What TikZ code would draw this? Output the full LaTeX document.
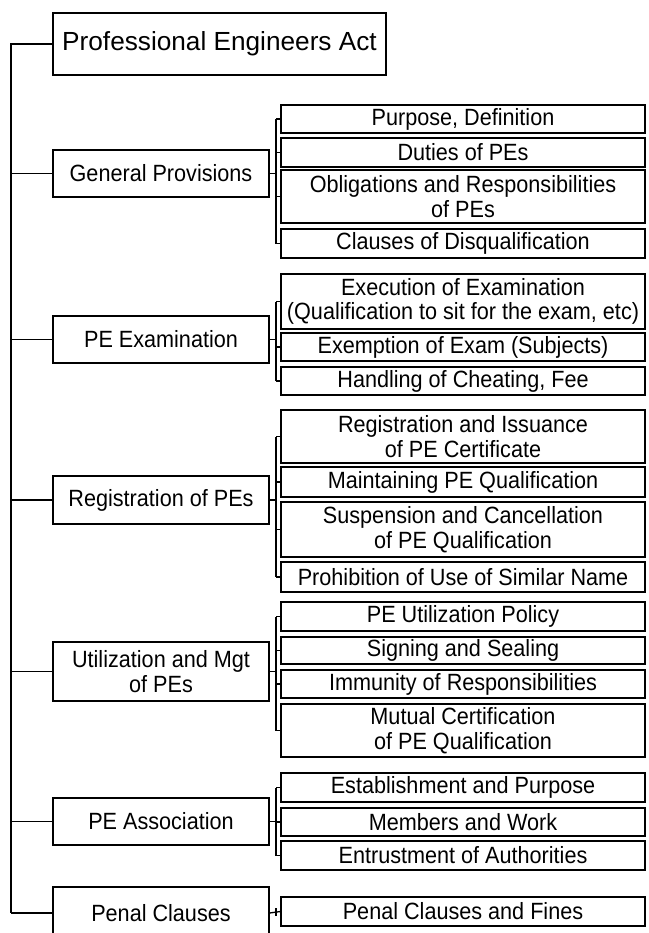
\documentclass[tikz,border=0pt]{standalone}
\usepackage{fontspec}
\setmainfont[FakeStretch=0.92]{Liberation Sans}
\newfontfamily\titlefont{Liberation Sans}
\begin{document}
\begin{tikzpicture}[x=1pt,y=-1pt,
  pbox/.style={draw,line width=1.3pt,minimum width=216pt,inner sep=0pt,align=center,font=\fontsize{23.5}{24.5}\selectfont},
  cbox/.style={draw,line width=1.3pt,minimum width=364pt,inner sep=0pt,align=center,font=\fontsize{23.5}{24.5}\selectfont},
  tbox/.style={draw,line width=1.3pt,minimum width=333pt,minimum height=62pt,inner sep=0pt,font=\titlefont\fontsize{26.2}{30}\selectfont},
  mainline/.style={line width=2pt},
  link/.style={line width=1.3pt}]
\useasboundingbox (0,0) rectangle (648,933);
% title
\node[tbox] (title) at (219.5,44) {Professional Engineers Act};
\coordinate (top) at (11,44);
\coordinate (bx) at (276,0);
% parents
\node[pbox,minimum height=47pt] (p1) at (161,173.5) {General Provisions};
\node[pbox,minimum height=47pt] (p2) at (161,339.5) {PE Examination};
\node[pbox,minimum height=48pt] (p3) at (161,500) {Registration of PEs};
\node[pbox,minimum height=59pt] (p4) at (161,671.5) {Utilization and Mgt\\of PEs};
\node[pbox,minimum height=47pt] (p5) at (161,821.5) {PE Association};
\node[pbox,minimum height=52pt] (p6) at (161,913) {Penal Clauses};
% children
\node[cbox,minimum height=28pt] (c11) at (463,119) {Purpose, Definition};
\node[cbox,minimum height=29pt] (c12) at (463,152.5) {Duties of PEs};
\node[cbox,minimum height=53pt] (c13) at (463,196.5) {Obligations and Responsibilities\\of PEs};
\node[cbox,minimum height=29pt] (c14) at (463,243.5) {Clauses of Disqualification};
\node[cbox,minimum height=55pt] (c21) at (463,301.5) {Execution of Examination\\(Qualification to sit for the exam, etc)};
\node[cbox,minimum height=28pt] (c22) at (463,347) {Exemption of Exam (Subjects)};
\node[cbox,minimum height=28pt] (c23) at (463,381) {Handling of Cheating, Fee};
\node[cbox,minimum height=53pt] (c31) at (463,436.5) {Registration and Issuance\\of PE Certificate};
\node[cbox,minimum height=30pt] (c32) at (463,482) {Maintaining PE Qualification};
\node[cbox,minimum height=55pt] (c33) at (463,529.5) {Suspension and Cancellation\\of PE Qualification};
\node[cbox,minimum height=30pt] (c34) at (463,577) {Prohibition of Use of Similar Name};
\node[cbox,minimum height=29pt] (c41) at (463,616.5) {PE Utilization Policy};
\node[cbox,minimum height=27pt] (c42) at (463,650.5) {Signing and Sealing};
\node[cbox,minimum height=28pt] (c43) at (463,684) {Immunity of Responsibilities};
\node[cbox,minimum height=53pt] (c44) at (463,730.5) {Mutual Certification\\of PE Qualification};
\node[cbox,minimum height=29pt] (c51) at (463,787.5) {Establishment and Purpose};
\node[cbox,minimum height=28pt] (c52) at (463,822) {Members and Work};
\node[cbox,minimum height=29pt] (c53) at (463,855.5) {Entrustment of Authorities};
\node[cbox,minimum height=29pt] (c61) at (463,911.5) {Penal Clauses and Fines};
% main spine
\draw[mainline] (title.west) -- (top) -- (top |- p6.west);
\foreach \p in {p1,p2,p3,p4,p5,p6}
  \draw[link] (top |- \p.west) -- (\p.west);
% brackets
\draw[link] (p1.east) -- (p1.east -| bx);
\draw[link] (c11.west -| bx) -- (c14.west -| bx);
\foreach \c in {c11,c12,c13,c14} \draw[link] (\c.west -| bx) -- (\c.west);
\draw[link] (p2.east) -- (p2.east -| bx);
\draw[link] (c21.west -| bx) -- (c23.west -| bx);
\foreach \c in {c21,c22,c23} \draw[link] (\c.west -| bx) -- (\c.west);
\draw[link] (p3.east) -- (p3.east -| bx);
\draw[link] (c31.west -| bx) -- (c34.west -| bx);
\foreach \c in {c31,c32,c33,c34} \draw[link] (\c.west -| bx) -- (\c.west);
\draw[link] (p4.east) -- (p4.east -| bx);
\draw[link] (c41.west -| bx) -- (c44.west -| bx);
\foreach \c in {c41,c42,c43,c44} \draw[link] (\c.west -| bx) -- (\c.west);
\draw[link] (p5.east) -- (p5.east -| bx);
\draw[link] (c51.west -| bx) -- (c53.west -| bx);
\foreach \c in {c51,c52,c53} \draw[link] (\c.west -| bx) -- (\c.west);
\draw[link] (p6.east) -- (c61.west);
\draw[link] ([yshift=-4pt]c61.west -| bx) -- ([yshift=4pt]c61.west -| bx);
\end{tikzpicture}
\end{document}
